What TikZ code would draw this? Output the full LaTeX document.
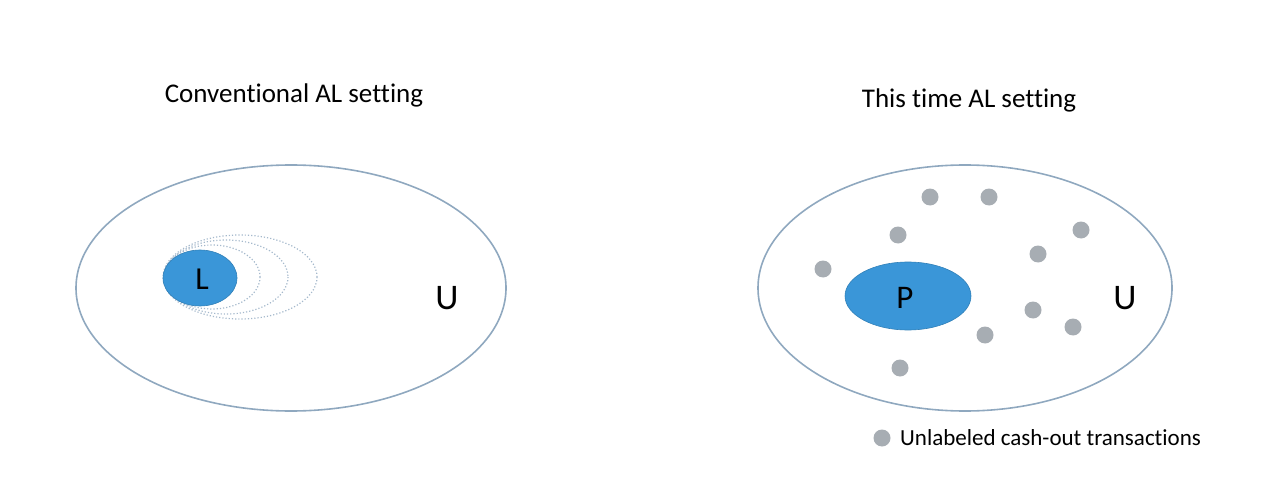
\documentclass[tikz,border=0pt]{standalone}
\usepackage{fontspec}
\setmainfont[Ligatures=NoCommon]{Carlito}
\definecolor{setblue}{HTML}{3A96D8}
\definecolor{rim}{HTML}{8FA8BF}
\definecolor{dotgray}{HTML}{A7ADB3}
\tikzset{
  universe/.style={draw=rim, line width=1.6pt},
  blueset/.style={fill=setblue, draw=setblue!85!black, line width=0.6pt},
  ring/.style={draw=rim!80, dotted, line width=1.2pt},
  tx/.style={circle, fill=dotgray, inner sep=0pt, minimum size=17pt},
  title/.style={font=\fontsize{27}{31}\selectfont, text=black},
  big/.style={font=\fontsize{36}{40}\selectfont, text=black},
}
\begin{document}
\begin{tikzpicture}[x=1pt,y=-1pt]
\useasboundingbox (0,0) rectangle (1274,492);
% left panel
\node[title] (t1) at (294,95) {Conventional AL setting};
\draw[universe] (291,288) ellipse [x radius=215, y radius=123];
\draw[ring] (240,277) ellipse [x radius=77, y radius=42];
\draw[ring] (226,277) ellipse [x radius=62, y radius=37];
\draw[ring] (212,277) ellipse [x radius=48, y radius=32];
\draw[blueset] (200,278) ellipse [x radius=37, y radius=28];
\node[font=\fontsize{32}{36}\selectfont] (L) at (202,279) {L};
\node[big] (U1) at (447,298) {U};
% right panel
\node[title] (t2) at (969,100) {This time AL setting};
\draw[universe] (965,288) ellipse [x radius=207, y radius=123];
\draw[blueset] (908,296) ellipse [x radius=63, y radius=34];
\node[font=\fontsize{33}{37}\selectfont] (P) at (905,298) {P};
\node[big] (U2) at (1125,298) {U};
\node[tx] (d1) at (930,197) {};
\node[tx] (d2) at (989,197) {};
\node[tx] (d3) at (898,235) {};
\node[tx] (d4) at (1081,230) {};
\node[tx] (d5) at (1038,254) {};
\node[tx] (d6) at (823,269) {};
\node[tx] (d7) at (1033,310) {};
\node[tx] (d8) at (1073,327) {};
\node[tx] (d9) at (985,335) {};
\node[tx] (d10) at (900,368) {};
\node[tx] (ld) at (882,438) {};
\node[anchor=west, font=\fontsize{23}{26}\selectfont, inner sep=0pt] (lt) at (900,438) {Unlabeled cash-out transactions};
\end{tikzpicture}
\end{document}
